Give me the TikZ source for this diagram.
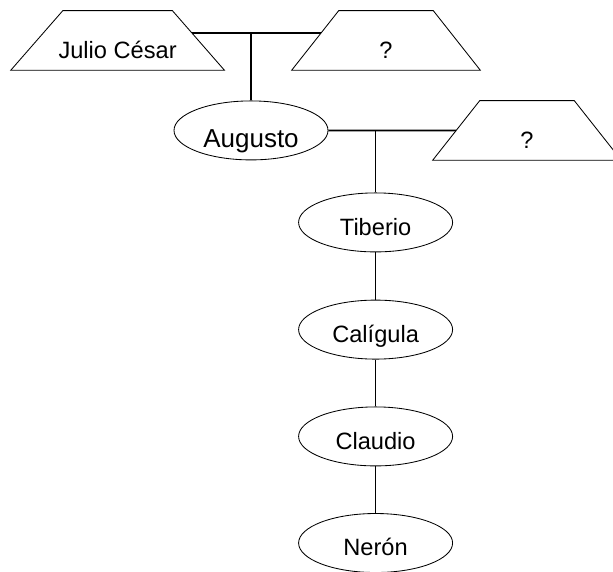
\documentclass[tikz,border=0pt]{standalone}
\usepackage{fontspec}
\setmainfont{Liberation Sans}
\usepackage{tikz}
\usetikzlibrary{shapes.geometric,calc}

\begin{document}
\begin{tikzpicture}[
      em/.style={draw,ellipse,line width=0.6pt,inner sep=0pt,
        minimum width=3.85cm,minimum height=1.475cm,
        font=\fontsize{16.8}{20}\selectfont,text height=18.4pt,text depth=0pt},
      tz/.style={rectangle,inner xsep=0pt,inner ysep=7.98pt,minimum width=4.7cm,
        font=\fontsize{16.8}{20}\selectfont,text height=26pt,text depth=0pt},
      ln/.style={line width=1.2pt}]
    \useasboundingbox (0,0) rectangle (15.325,-14.275);
    % parents
    \node[tz,minimum width=5.325cm](jc) at (2.94,-1.01) {Julio César};
    \node[tz](q1) at (9.65,-1.01)  {?};
    \node[em,font=\fontsize{18.5}{22}\selectfont,text height=24.6pt](aug) at (6.275,-3.26) {Augusto};
    \node[tz](q2) at (13.175,-3.26) {?};
    % trapezium outlines, narrow side up
    \foreach \n/\d in {jc/1.3,q1/1.175,q2/1.175}
      \draw[line width=0.6pt](\n.south west)--([xshift=\d cm]\n.north west)
        --([xshift=-\d cm]\n.north east)--(\n.south east)--cycle;
    % line of descent
    \node[em](tib) at (9.39,-5.56)   {Tiberio};
    \node[em](cal) at (9.39,-8.24)   {Calígula};
    \node[em](cla) at (9.39,-10.91)  {Claudio};
    \node[em](ner) at (9.39,-13.575) {Nerón};
    \coordinate (jcR) at ($([xshift=-1.3cm]jc.north east)!0.37!(jc.south east)$);
    \coordinate (q1L) at ($([xshift=1.175cm]q1.north west)!0.37!(q1.south west)$);
    \coordinate (q2L) at ($([xshift=1.175cm]q2.north west)!0.5!(q2.south west)$);
    \draw[ln](jcR)--(q1L);
    \draw[ln](aug.north |- jcR)--(aug.north);
    \draw[ln](aug.east)--(q2L);
    \draw[ln](tib.north |- aug.east)--(tib.north);
    \draw[ln](tib)--(cal);\draw[ln](cal)--(cla);\draw[ln](cla)--(ner);
  \end{tikzpicture}
\end{document}
